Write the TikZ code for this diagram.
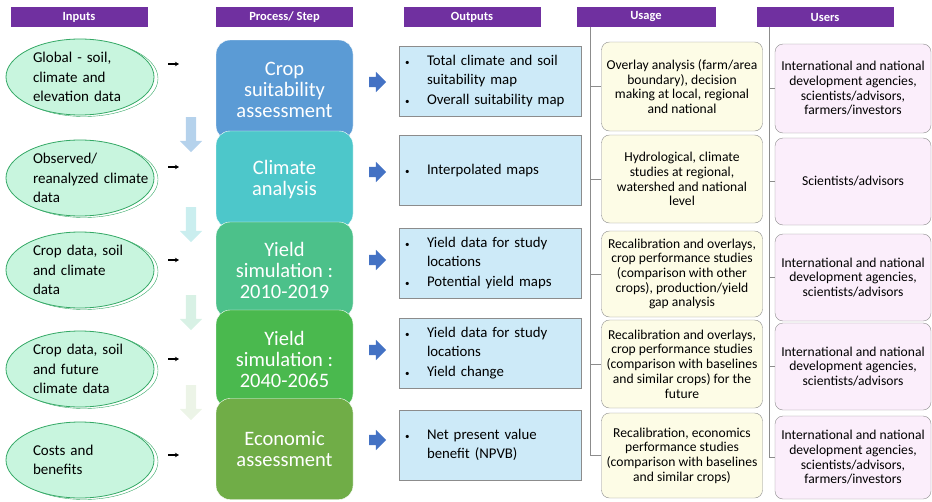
\documentclass[tikz,border=0pt]{standalone}
\usepackage{fontspec}
\setmainfont{Carlito}
\usetikzlibrary{positioning,shapes.geometric,shapes.arrows,arrows.meta}
\definecolor{hdpurple}{HTML}{7030A0}
\definecolor{inmint}{HTML}{C8F5DE}
\definecolor{ingreen}{HTML}{34A865}
\definecolor{stepA}{HTML}{5B9BD5}
\definecolor{stepB}{HTML}{4DC7CA}
\definecolor{stepC}{HTML}{4CC18A}
\definecolor{stepD}{HTML}{4AB94E}
\definecolor{stepE}{HTML}{70AD47}
\definecolor{outblue}{HTML}{CDEAF8}
\definecolor{useyellow}{HTML}{FDFCE6}
\definecolor{userpink}{HTML}{FBEEFB}
\definecolor{arrblue}{HTML}{4472C4}
\definecolor{boxgray}{HTML}{8C8C8C}
\newcommand{\dotitem}{{\fontsize{9}{9}\selectfont\textbullet}}

\begin{document}
\begin{tikzpicture} [
        x=1pt, y=-1pt,
        headbox/.style={fill=hdpurple, text=white, minimum width=137pt, minimum height=20pt, inner sep=0pt, font=\bfseries\fontsize{12.5}{14}\selectfont},
        inellipse/.style={ellipse, fill=inmint, draw=ingreen, thick, minimum width=148pt, minimum height=76pt, inner sep=0pt, text width=94pt, align=left, font=\fontsize{15}{19.5}\selectfont},
        inring/.style={ellipse, draw=ingreen, minimum width=148pt, minimum height=76pt},
        stepbox/.style={rounded corners=14pt, draw=white, text=white, minimum width=137pt, align=center, font=\fontsize{20.5}{21}\selectfont},
        outbox/.style={rectangle, fill=outblue, draw=boxgray, text width=170pt, inner xsep=6pt, minimum height=70pt, align=left, font=\fontsize{14.8}{19.8}\selectfont},
        usagebox/.style={rounded corners=8pt, fill=useyellow, draw=boxgray, minimum width=161pt, minimum height=88pt, inner xsep=1pt, align=center, font=\fontsize{13.6}{14.7}\selectfont},
        userbox/.style={rounded corners=8pt, fill=userpink, draw=boxgray, minimum width=156pt, minimum height=87pt, inner xsep=1pt, align=center, font=\fontsize{13.6}{14.7}\selectfont},
        flowarrow/.style={single arrow, draw=none, minimum height=35pt, inner sep=5pt, single arrow head extend=6pt, shape border rotate=270},
        feedarrow/.style={single arrow, fill=arrblue, draw=none, minimum height=17pt, inner sep=5pt, single arrow head extend=5pt},
        smallarrow/.style={-{Stealth[length=4pt,width=4.5pt]}, line width=1.2pt},
        treeline/.style={draw=boxgray, line width=0.6pt} ]
    \useasboundingbox (0,0) rectangle (932,501);

    \node[headbox] (h1) at (79,17) {Inputs};
    \node[headbox] (h2) at (284.5,17) {Process/ Step};
    \node[headbox] (h3) at (472,17) {Outputs};
    \node[headbox, minimum width=139pt] (h4) at (646,17) {Usage};
    \node[headbox] (h5) at (825,17) {Users};

    \foreach \y in {77,178,270,369,460}
        \node[inring] at (84,\y+1.5) {};
    \node[inellipse] (in1) at (80,77) {Global - soil,\\climate and\\elevation data};
    \node[inellipse] (in2) at (80,178) {Observed/\\\mbox{reanalyzed climate}\\data};
    \node[inellipse] (in3) at (80,270) {Crop data, soil\\and climate\\data};
    \node[inellipse] (in4) at (80,369) {Crop data, soil\\and future\\climate data};
    \node[inellipse] (in5) at (80,460) {Costs and\\benefits};

    \foreach \y [count=\i] in {64,167,260,359,455} {
        \coordinate (t\i) at (168,\y);
        \draw[smallarrow] (t\i) -- ++(11,0);
    }

    \node[flowarrow, fill=stepA!45] (fl1) at (191,132) {};
    \node[flowarrow, fill=stepB!30] (fl2) at (191,222) {};
    \node[flowarrow, fill=stepC!22] (fl3) at (191,310) {};
    \node[flowarrow, fill=stepE!13] (fl4) at (191,400) {};

    \node[stepbox, fill=stepA, minimum height=100pt] (s1) at (284.5,90) {Crop\\suitability\\assessment};
    \node[stepbox, fill=stepB, minimum height=97pt] (s2) at (284.5,179.5) {Climate\\analysis};
    \node[stepbox, fill=stepC, minimum height=96pt] (s3) at (284.5,270) {Yield\\simulation :\\2010-2019};
    \node[stepbox, fill=stepD, minimum height=98pt] (s4) at (284.5,359) {Yield\\simulation :\\2040-2065};
    \node[stepbox, fill=stepE, minimum height=101pt] (s5) at (284.5,449) {Economic\\assessment};

    \foreach \y [count=\i] in {82,172,260,350,440}
        \node[feedarrow] (f\i) at (375,\y) {};

    \node[outbox] (o1) at (490,81) {\begin{tabular}{@{}p{22pt}@{}l@{}}\dotitem & Total climate and soil\\ & suitability map\\ \dotitem & Overall suitability map\end{tabular}};
    \node[outbox] (o2) at (490,170.5) {\begin{tabular}{@{}p{22pt}@{}l@{}}\dotitem & Interpolated maps\end{tabular}};
    \node[outbox] (o3) at (490,263) {\begin{tabular}{@{}p{22pt}@{}l@{}}\dotitem & Yield data for study\\ & locations\\ \dotitem & Potential yield maps\end{tabular}};
    \node[outbox] (o4) at (490,353) {\begin{tabular}{@{}p{22pt}@{}l@{}}\dotitem & Yield data for study\\ & locations\\ \dotitem & Yield change\end{tabular}};
    \node[outbox] (o5) at (490,445) {\begin{tabular}{@{}p{22pt}@{}l@{}}\dotitem & Net present value\\ & benefit (NPVB)\end{tabular}};

    \node[usagebox, minimum height=89pt] (u1) at (682,86.5) {Overlay analysis (farm/area\\boundary), decision\\making at local, regional\\and national};
    \node[usagebox] (u2) at (682,179) {Hydrological, climate\\studies at regional,\\watershed and national\\level};
    \node[usagebox, minimum height=86pt] (u3) at (682,274) {Recalibration and overlays,\\crop performance studies\\(comparison with other\\crops), production/yield\\gap analysis};
    \node[usagebox] (u4) at (682,364) {Recalibration and overlays,\\crop performance studies\\(comparison with baselines\\and similar crops) for the\\future};
    \node[usagebox, minimum height=85pt] (u5) at (682,455.5) {Recalibration, economics\\performance studies\\(comparison with baselines\\and similar crops)};

    \node[userbox, minimum height=89pt] (r1) at (853,88.5) {International and national\\development agencies,\\scientists/advisors,\\farmers/investors};
    \node[userbox] (r2) at (853,181.5) {Scientists/advisors};
    \node[userbox] (r3) at (853,277.5) {International and national\\development agencies,\\scientists/advisors};
    \node[userbox] (r4) at (853,366.5) {International and national\\development agencies,\\scientists/advisors};
    \node[userbox, minimum height=83pt] (r5) at (853,457.5) {International and national\\development agencies,\\scientists/advisors,\\farmers/investors};

    \coordinate (ut) at (590,27);
    \coordinate (rt) at (769.5,27);
    \draw[treeline] (ut) |- (u5.west);
    \draw[treeline] (rt) |- (r5.west);
    \foreach \i in {1,...,4} {
        \draw[treeline] (ut |- u\i.west) -- (u\i.west);
        \draw[treeline] (rt |- r\i.west) -- (r\i.west);
    }
\end{tikzpicture}
\end{document}
